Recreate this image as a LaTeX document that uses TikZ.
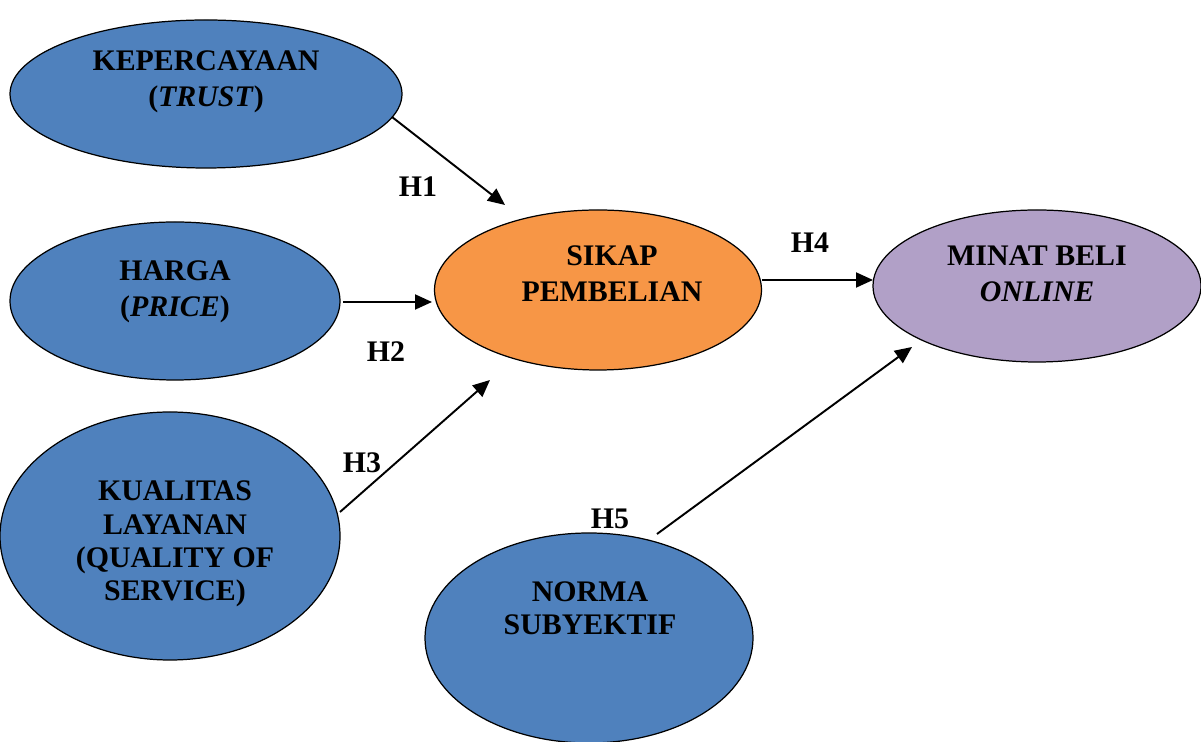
\documentclass[tikz,border=0pt]{standalone}
\usepackage{fontspec}
\setmainfont{Liberation Serif}
\usetikzlibrary{shapes.geometric,arrows.meta}
\definecolor{cblue}{HTML}{4F81BD}
\definecolor{corange}{HTML}{F79646}
\definecolor{cpurple}{HTML}{B1A0C7}
\tikzset{
  ell/.style={ellipse,draw=black,line width=0.7pt,inner sep=0pt},
  txt/.style={align=center,font=\fontsize{17}{20.5}\selectfont\bfseries},
  txtb/.style={align=center,font=\fontsize{17}{19}\selectfont\bfseries},
  hlab/.style={font=\fontsize{17}{20}\selectfont\bfseries},
  arr/.style={line width=1.1pt,-{Triangle[length=0.34cm,width=0.3cm]}}
}
\begin{document}
\begin{tikzpicture}
\useasboundingbox (0,0) rectangle (24.02,14.84);
\node[ell,fill=cblue,minimum width=7.84cm,minimum height=2.96cm] (kep) at (4.12,12.96) {};
\node[ell,fill=cblue,minimum width=6.6cm,minimum height=3.16cm] (harga) at (3.5,8.82) {};
\node[ell,fill=cblue,minimum width=6.8cm,minimum height=4.96cm] (kual) at (3.4,4.12) {};
\node[ell,fill=corange,minimum width=6.54cm,minimum height=3.2cm] (sik) at (11.96,9.04) {};
\node[ell,fill=cpurple,minimum width=6.56cm,minimum height=3.04cm] (minat) at (20.74,9.12) {};
\node[ell,fill=cblue,minimum width=6.56cm,minimum height=4.2cm] (norma) at (11.78,2.08) {};

\node[txt] (tkep) at (4.12,13.2) {KEPERCAYAAN\\(\textit{TRUST})};
\node[txt] (tharga) at (3.5,9.0) {HARGA\\(\textit{PRICE})};
\node[txtb] (tkual) at (3.5,3.96) {KUALITAS\\LAYANAN\\(QUALITY OF\\SERVICE)};
\node[txt] (tsik) at (12.24,9.37) {SIKAP\\PEMBELIAN};
\node[txt] (tminat) at (20.74,9.36) {MINAT BELI\\\textit{ONLINE}};
\node[txtb] (tnorma) at (11.8,2.68) {NORMA\\SUBYEKTIF};

\coordinate (s1) at (7.84,12.5);  \coordinate (e1) at (10.1,10.74);
\coordinate (s2) at (6.86,8.8);   \coordinate (e2) at (8.64,8.8);
\coordinate (s3) at (6.8,4.6);    \coordinate (e3) at (9.8,7.24);
\coordinate (s4) at (15.24,9.24); \coordinate (e4) at (17.46,9.24);
\coordinate (s5) at (13.14,4.16); \coordinate (e5) at (18.24,7.9);
\draw[arr] (s1) -- (e1);
\draw[arr] (s2) -- (e2);
\draw[arr] (s3) -- (e3);
\draw[arr] (s4) -- (e4);
\draw[arr] (s5) -- (e5);

\node[hlab] (h1) at (8.36,11.1) {H1};
\node[hlab] (h2) at (7.72,7.8) {H2};
\node[hlab] (h3) at (7.24,5.58) {H3};
\node[hlab] (h4) at (16.2,9.98) {H4};
\node[hlab] (h5) at (12.2,4.46) {H5};
\end{tikzpicture}
\end{document}
